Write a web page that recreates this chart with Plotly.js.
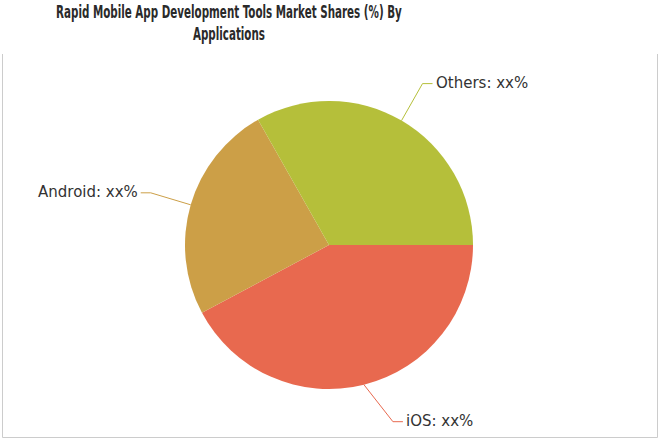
<!DOCTYPE html>
<html>
<head>
<meta charset="utf-8">
<script src="https://cdn.plot.ly/plotly-3.0.1.min.js"></script>
<style>html,body{margin:0;padding:0;background:#fff;}#chart{width:660px;height:440px;}</style>
</head>
<body>
<div id="chart"></div>
<script>
// ---- data ----
var categories = ['iOS', 'Android', 'Others'];
var shares = [42.2, 24.6, 33.2];
var labelTexts = ['iOS: xx%', 'Android: xx%', 'Others: xx%'];
var titleText = '<b>Rapid Mobile App Development Tools Market Shares (%) By<br>Applications</b>';

// ---- style ----
var colors = ['#E8694F', '#CC9F47', '#B5BF3A'];
var W = 660, H = 440;
var M = {l: 185, r: 187, t: 101, b: 51};
var elbowOffset = [[29, 37], [-40, -12], [21, -37]]; // px, leader first segment
var tailLen = 10;
var titleWidth = 346; // condensed title width in px

var pw = W - M.l - M.r, ph = H - M.t - M.b;
var cx = M.l + pw / 2, cy = M.t + ph / 2, R = Math.min(pw, ph) / 2;
function px2x(px) { return (px - M.l) / pw; }
function py2y(py) { return 1 - (py - M.t) / ph; }

var total = shares.reduce(function (a, b) { return a + b; }, 0);
var shapes = [], annotations = [];
var acc = 0;
var startDeg = 0; // 3 o'clock, clockwise (screen coords)
for (var i = 0; i < shares.length; i++) {
  var mid = startDeg + (acc + shares[i] / 2) / total * 360;
  acc += shares[i];
  var a = mid * Math.PI / 180;
  var ex = cx + R * Math.cos(a), ey = cy + R * Math.sin(a);
  var bx = ex + elbowOffset[i][0], by = ey + elbowOffset[i][1];
  var right = Math.cos(a) >= 0;
  var tx = bx + (right ? tailLen : -tailLen);
  shapes.push({
    type: 'path', xref: 'paper', yref: 'paper',
    path: 'M' + px2x(ex) + ',' + py2y(ey) + ' L' + px2x(bx) + ',' + py2y(by) + ' L' + px2x(tx) + ',' + py2y(by),
    line: {color: colors[i], width: 1}
  });
  annotations.push({
    xref: 'paper', yref: 'paper', x: px2x(tx + (right ? 1 : -1)), y: py2y(by - 1),
    xanchor: right ? 'left' : 'right', yanchor: 'middle', showarrow: false,
    text: labelTexts[i], font: {family: 'DejaVu Sans', size: 15, color: '#333333'}
  });
}
// title as annotation
annotations.push({
  xref: 'paper', yref: 'paper', x: px2x(229), y: py2y(0),
  xanchor: 'center', yanchor: 'top', showarrow: false, align: 'center',
  text: titleText,
  font: {family: 'DejaVu Sans Condensed, DejaVu Sans', size: 17, color: '#2a2a2a'}
});
// frame (left, bottom, right)
shapes.push({
  type: 'path', xref: 'paper', yref: 'paper',
  path: 'M' + px2x(2.5) + ',' + py2y(54) + ' L' + px2x(2.5) + ',' + py2y(437.5) +
        ' L' + px2x(657.5) + ',' + py2y(437.5) + ' L' + px2x(657.5) + ',' + py2y(54),
  line: {color: '#CCCCCC', width: 1}
});

var data = [{
  type: 'pie',
  labels: categories,
  values: shares,
  sort: false,
  direction: 'clockwise',
  rotation: 90,
  textinfo: 'none',
  hoverinfo: 'label+percent',
  marker: {colors: colors, line: {width: 0}},
  showlegend: false
}];

var layout = {
  width: W, height: H,
  margin: M,
  paper_bgcolor: '#ffffff',
  plot_bgcolor: '#ffffff',
  shapes: shapes,
  annotations: annotations,
  showlegend: false
};

Plotly.newPlot('chart', data, layout, {displayModeBar: false, staticPlot: true}).then(function () {
  var texts = document.querySelectorAll('.annotation-text');
  var t = texts[texts.length - 1];
  var bb = t.getBBox();
  var c = bb.x + bb.width / 2;
  var s = titleWidth / bb.width;
  t.setAttribute('transform', 'translate(' + c + ',0) scale(' + s + ',1) translate(' + (-c) + ',0)');
});
</script>
</body>
</html>
